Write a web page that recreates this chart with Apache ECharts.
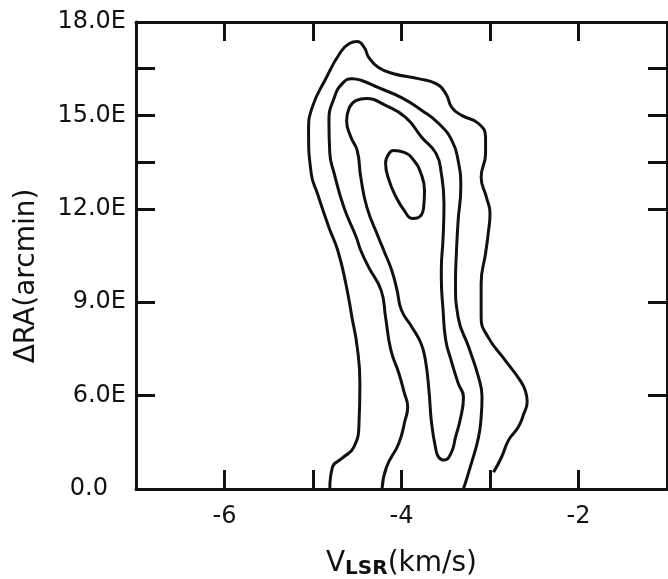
<!DOCTYPE html>
<html>
<head>
<meta charset="utf-8">
<script src="https://cdn.jsdelivr.net/npm/echarts@6/dist/echarts.min.js"></script>
<style>
  html, body { margin: 0; padding: 0; background: #fff; }
  #chart { width: 668px; height: 579px; }
</style>
</head>
<body>
<div id="chart"></div>
<script>
// axis ticks and labels
var xTicks = [-6, -5, -4, -3, -2];
var xLabels = [-6, -4, -2];
var yTicks = [6, 9, 12, 13.5, 15, 16.5];
var yLabelValues = [3, 6, 9, 12, 15, 18];
var yLabelText = ['0.0', '6.0E', '9.0E', '12.0E', '15.0E', '18.0E'];

// contour lines, [V_LSR, dRA]
var contour1 = [[-4.81,3.0],[-4.78,3.70],[-4.67,3.99],[-4.54,4.34],[-4.48,5.11],[-4.47,6.40],[-4.50,7.55],[-4.56,8.52],
  [-4.63,9.61],[-4.72,10.66],[-4.82,11.40],[-4.95,12.49],[-5.02,13.13],[-5.05,14.51],[-5.01,15.25],[-4.85,16.21],
  [-4.70,16.98],[-4.59,17.31],[-4.50,17.37],[-4.42,17.18],[-4.37,16.86],[-4.26,16.54],[-4.09,16.34],[-3.81,16.18],
  [-3.61,16.02],[-3.50,15.70],[-3.43,15.25],[-3.32,15.00],[-3.13,14.74],[-3.05,14.29],[-3.05,13.78],[-3.10,13.01],
  [-3.04,12.37],[-3.00,11.85],[-3.02,11.21],[-3.05,10.57],[-3.10,9.61],[-3.10,8.52],[-3.02,7.87],[-2.83,7.14],
  [-2.66,6.49],[-2.60,6.15],[-2.58,5.80],[-2.62,5.40],[-2.68,4.99],[-2.79,4.57],[-2.87,4.02],[-2.96,3.54]];
var contour2 = [[-4.22,3.0],[-4.17,3.70],[-4.03,4.47],[-3.96,5.20],[-3.93,5.63],[-3.97,6.10],[-4.03,6.72],[-4.12,7.46],
  [-4.18,8.52],[-4.23,9.38],[-4.37,10.12],[-4.46,10.66],[-4.51,11.08],[-4.65,12.04],[-4.76,13.13],[-4.81,13.78],
  [-4.82,14.83],[-4.76,15.57],[-4.67,16.02],[-4.56,16.18],[-4.45,16.12],[-4.26,15.89],[-4.00,15.57],[-3.77,15.16],
  [-3.58,14.74],[-3.43,14.19],[-3.36,13.55],[-3.33,12.69],[-3.36,11.63],[-3.38,10.57],[-3.39,9.61],[-3.36,8.52],
  [-3.24,7.55],[-3.13,6.59],[-3.09,5.95],[-3.10,5.31],[-3.13,4.66],[-3.21,3.83],[-3.30,3.0]];
var contour3 = [[-4.59,15.25],[-4.51,15.48],[-4.40,15.54],[-4.18,15.32],[-3.95,14.93],[-3.77,14.29],[-3.61,13.78],
  [-3.55,13.13],[-3.52,12.17],[-3.53,11.08],[-3.55,10.02],[-3.55,9.80],[-3.53,8.74],[-3.50,7.78],[-3.44,7.14],
  [-3.36,6.40],[-3.30,5.95],[-3.33,5.31],[-3.39,4.66],[-3.44,4.15],[-3.52,3.93],[-3.58,4.02],[-3.61,4.25],
  [-3.66,5.11],[-3.69,6.17],[-3.73,7.14],[-3.78,7.68],[-3.88,8.19],[-4.00,8.74],[-4.05,9.38],[-4.11,10.02],
  [-4.20,10.66],[-4.26,11.08],[-4.39,12.04],[-4.46,13.01],[-4.50,13.87],[-4.57,14.29],[-4.62,14.83],[-4.59,15.25]];
var contour4 = [[-4.14,13.78],[-4.09,13.87],[-3.97,13.81],[-3.86,13.55],[-3.78,13.13],[-3.74,12.59],[-3.75,12.04],
  [-3.81,11.72],[-3.88,11.69],[-3.97,11.95],[-4.06,12.37],[-4.14,12.91],[-4.18,13.46],[-4.14,13.78]];

var ink = '#111';
var font = '"DejaVu Sans", "Liberation Sans", sans-serif';

var chart = echarts.init(document.getElementById('chart'));

function xAxisCfg(pos, labels) {
    return {
        type: 'value', position: pos, min: -7, max: -1, interval: 1,
        axisLine: { show: true, onZero: false, lineStyle: { color: ink, width: 3 } },
        axisTick: { show: true, inside: true, length: 19, customValues: xTicks, lineStyle: { color: ink, width: 3 } },
        axisLabel: { show: labels, customValues: xLabels, margin: 16, color: ink, fontSize: 24, fontFamily: font },
        splitLine: { show: false }
    };
}
function yAxisCfg(pos, labels, w) {
    return {
        type: 'value', position: pos, min: 3, max: 18, interval: 1.5,
        axisLine: { show: true, onZero: false, lineStyle: { color: ink, width: w } },
        axisTick: { show: true, inside: true, length: 19, customValues: yTicks, lineStyle: { color: ink, width: 3 } },
        axisLabel: {
            show: labels, customValues: yLabelValues, margin: 10, color: ink, fontSize: 24, fontFamily: font,
            formatter: function (v) {
                var i = yLabelValues.indexOf(v);
                if (i < 0) return '';
                return i === 0 ? '{z|' + yLabelText[i] + '}' : yLabelText[i];
            },
            rich: { z: { fontSize: 24, fontFamily: font, color: ink, padding: [0, 18, 0, 0] } }
        },
        splitLine: { show: false }
    };
}

function contourSeries(data) {
    return {
        type: 'line', data: data, smooth: 0.5, showSymbol: false, symbol: 'none',
        xAxisIndex: 0, yAxisIndex: 0,
        lineStyle: { color: ink, width: 3 }
    };
}

var xBottom = xAxisCfg('bottom', true);
xBottom.name = '{v|V}{s|LSR}{v|(km/s)}';
xBottom.nameLocation = 'middle';
xBottom.nameGap = 60;
xBottom.nameTextStyle = {
    rich: {
        v: { fontSize: 28, fontFamily: font, color: ink, lineHeight: 30 },
        s: { fontSize: 20, fontFamily: font, color: ink, lineHeight: 20, verticalAlign: 'bottom', fontWeight: 'bold' }
    }
};

var option = {
    animation: false,
    backgroundColor: '#fff',
    grid: { left: 136, right: 1, top: 22, bottom: 90, containLabel: false, outerBoundsMode: 'none' },
    xAxis: [xBottom, xAxisCfg('top', false)],
    yAxis: [yAxisCfg('left', true, 3), yAxisCfg('right', false, 2)],
    graphic: [{
        type: 'text', x: 27, y: 276, rotation: Math.PI / 2,
        style: { text: 'ΔRA(arcmin)', font: '28px ' + font, fill: ink, align: 'center', verticalAlign: 'middle' }
    }],
    series: [contourSeries(contour1), contourSeries(contour2), contourSeries(contour3), contourSeries(contour4)]
};
chart.setOption(option);
</script>
</body>
</html>
